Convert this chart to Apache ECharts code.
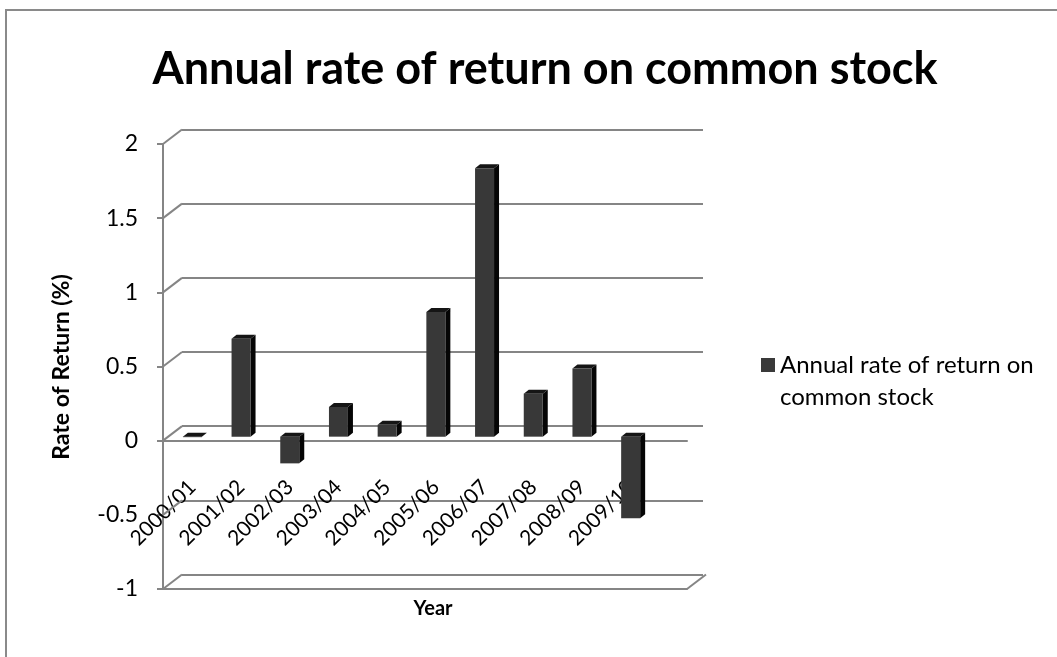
<!DOCTYPE html>
<html>
<head>
<meta charset="utf-8">
<script src="https://cdn.jsdelivr.net/npm/echarts@6/dist/echarts.min.js"></script>
<style>
html,body{margin:0;padding:0;background:#fff;}
#chart{width:1057px;height:657px;}
</style>
</head>
<body>
<div id="chart"></div>
<script>
// ---- data ----
const categories = ['2000/01','2001/02','2002/03','2003/04','2004/05','2005/06','2006/07','2007/08','2008/09','2009/10'];
const returns = [0.0, 0.66, -0.18, 0.20, 0.08, 0.84, 1.81, 0.29, 0.46, -0.55];
const yTicks = [-1, -0.5, 0, 0.5, 1, 1.5, 2];
const seriesName = 'Annual rate of return on common stock';
const legendLines = ['Annual rate of return on', 'common stock'];
const titleText = 'Annual rate of return on common stock';
const yName = 'Rate of Return (%)';
const xName = 'Year';

const FONT = 'Lato';
const GRID_COLOR = '#858585';
const DEPTH_X = 19, DEPTH_Y = 14.5;

const chart = echarts.init(document.getElementById('chart'));

function renderBar(params, api) {
  const i = api.value(0), v = api.value(1);
  const p0 = api.coord([i, 0]);
  const p1 = api.coord([i, v]);
  const bw = api.size([1, 0])[0] * 0.39;
  const x0 = p0[0] - bw / 2, x1 = p0[0] + bw / 2;
  const yTop = Math.min(p0[1], p1[1]);
  const yBot = Math.max(p0[1], p1[1]);
  const dx = 5, dy = 4;
  return {
    type: 'group',
    children: [
      { type: 'polygon', shape: { points: [[x1, yTop], [x1 + dx, yTop - dy], [x1 + dx, yBot - dy], [x1, yBot]] }, style: { fill: '#050505' } },
      { type: 'polygon', shape: { points: [[x0, yTop], [x0 + dx, yTop - dy], [x1 + dx, yTop - dy], [x1, yTop]] }, style: { fill: '#151515' } },
      { type: 'rect', shape: { x: x0, y: yTop, width: bw, height: Math.max(yBot - yTop, 0.5) }, style: { fill: '#383838' } }
    ]
  };
}

function renderWall(params, api) {
  const cs = params.coordSys;
  const lvl = api.value(1);
  const y = api.coord([0, lvl])[1];
  const children = [
    { type: 'line', shape: { x1: cs.x, y1: y, x2: cs.x + DEPTH_X, y2: y - DEPTH_Y }, style: { stroke: GRID_COLOR, lineWidth: 2 } }
  ];
  if (lvl === yTicks[0]) {
    children.push({ type: 'line', shape: { x1: cs.x + cs.width, y1: y, x2: cs.x + cs.width + DEPTH_X, y2: y - DEPTH_Y }, style: { stroke: GRID_COLOR, lineWidth: 2 } });
  }
  return { type: 'group', children };
}

const option = {
  backgroundColor: '#fff',
  animation: false,
  title: {
    text: titleText,
    left: 540,
    textAlign: 'center',
    top: 42,
    textStyle: { fontFamily: FONT, fontSize: 45, fontWeight: 'bold', color: '#000' }
  },
  legend: {
    left: 756,
    top: 312,
    icon: 'rect',
    itemWidth: 14,
    itemHeight: 14,
    data: [seriesName],
    formatter: () => ' \n' + legendLines.join('\n'),
    textStyle: { fontFamily: FONT, fontSize: 24, color: '#000', lineHeight: 32 }
  },
  graphic: [
    { type: 'rect', shape: { x: 6, y: 10, width: 1200, height: 800 }, style: { fill: 'none', stroke: '#8a8a8a', lineWidth: 2 }, silent: true, z: -10 },
    { type: 'text', x: 62, y: 367, rotation: Math.PI / 2, style: { text: yName, font: 'bold 23px ' + FONT, fill: '#000', align: 'center', verticalAlign: 'middle' } }
  ],
  grid: [
    { left: 163, right: 370, top: 144, bottom: 68, outerBoundsMode: 'none' },     // front plane
    { left: 182, right: 354, top: 129.5, bottom: 82.5, outerBoundsMode: 'none' }, // back wall
    { left: 168, right: 402, top: 140, bottom: 72, outerBoundsMode: 'none' },     // bars
    { left: 168, right: 402, top: 140, bottom: 220.3, outerBoundsMode: 'none' }   // category labels (bottom edge = zero line)
  ],
  xAxis: [
    { gridIndex: 0, type: 'category', data: categories, axisLine: { onZero: true, lineStyle: { color: GRID_COLOR, width: 2 } }, axisTick: { show: false }, axisLabel: { show: false } },
    { gridIndex: 0, type: 'category', data: categories, position: 'bottom', axisLine: { onZero: false, lineStyle: { color: GRID_COLOR, width: 2 } }, axisTick: { show: false }, axisLabel: { show: false },
      name: xName, nameLocation: 'middle', nameGap: 10, nameTextStyle: { fontFamily: FONT, fontSize: 20, fontWeight: 'bold', color: '#000', padding: [0, 0, 0, 16] } },
    { gridIndex: 1, type: 'category', data: categories, show: false },
    { gridIndex: 2, type: 'category', data: categories, show: false },
    { gridIndex: 3, type: 'category', data: categories, position: 'bottom', axisLine: { show: false, onZero: false }, axisTick: { show: false },
      axisLabel: { rotate: 45, margin: 47, fontFamily: FONT, fontSize: 21, color: '#000', interval: 0 } }
  ],
  yAxis: [
    { gridIndex: 0, type: 'value', min: -1, max: 2, interval: 0.5,
      axisLine: { show: true, lineStyle: { color: GRID_COLOR, width: 2 } },
      axisTick: { show: true, length: 6, lineStyle: { color: GRID_COLOR, width: 2 } },
      axisLabel: { margin: 25, fontFamily: FONT, fontSize: 23, color: '#000' },
      splitLine: { show: false } },
    { gridIndex: 1, type: 'value', min: -1, max: 2, interval: 0.5,
      axisLine: { show: false }, axisTick: { show: false }, axisLabel: { show: false },
      splitLine: { show: true, lineStyle: { color: GRID_COLOR, width: 2 } } },
    { gridIndex: 2, type: 'value', min: -1, max: 2, interval: 0.5,
      axisLine: { show: false }, axisTick: { show: false }, axisLabel: { show: false }, splitLine: { show: false } },
    { gridIndex: 3, type: 'value', show: false, splitLine: { show: false } }
  ],
  series: [
    { type: 'custom', name: 'wall', xAxisIndex: 0, yAxisIndex: 0, renderItem: renderWall, silent: true,
      data: yTicks.map(t => [0, t]), z: 1 },
    { type: 'custom', name: seriesName, xAxisIndex: 3, yAxisIndex: 2, renderItem: renderBar,
      itemStyle: { color: '#3a3a3a' },
      data: categories.map((c, i) => [i, returns[i]]), z: 5 }
  ]
};
chart.setOption(option);
</script>
</body>
</html>
